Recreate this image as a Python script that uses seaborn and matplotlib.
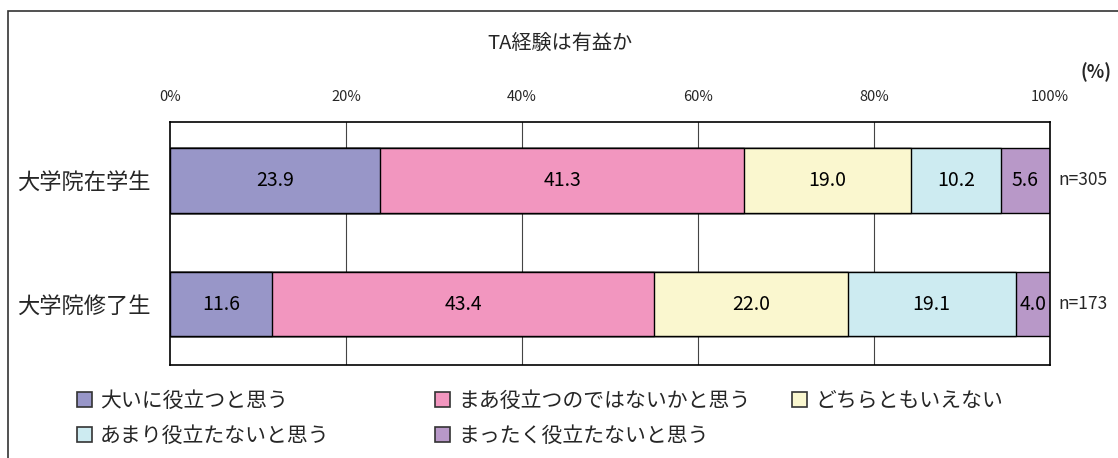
import numpy as np
import pandas as pd
import seaborn as sns
import matplotlib.pyplot as plt
from matplotlib.patches import Patch, Rectangle

groups = ["大学院在学生", "大学院修了生"]
answers = ["大いに役立つと思う", "まあ役立つのではないかと思う", "どちらともいえない",
           "あまり役立たないと思う", "まったく役立たないと思う"]
v_zaigaku = [23.9, 41.3, 19.0, 10.2, 5.6]
v_shuryo = [11.6, 43.4, 22.0, 19.1, 4.0]
n_labels = ["n=305", "n=173"]
x_ticks = [0, 20, 40, 60, 80, 100]
colors = ["#9896C8", "#F296BF", "#FAF7CF", "#CDEBF1", "#B898C8"]

sns.set_style("white")
plt.rcParams["font.family"] = ["Noto Sans CJK JP", "DejaVu Sans"]

df = pd.DataFrame([v_zaigaku, v_shuryo], index=groups, columns=answers)
cum = df.cumsum(axis=1)

fig = plt.figure(figsize=(11.18, 4.58), dpi=100)
ax = fig.add_axes([170 / 1118, 1 - 365 / 458, 880 / 1118, 243 / 458])

# stacked bars: draw cumulative totals from the longest to the shortest
for i in range(len(answers) - 1, -1, -1):
    sns.barplot(x=cum.iloc[:, i].values, y=groups, orient="h", width=0.52,
                color=colors[i], edgecolor="black", linewidth=1.0,
                saturation=1, ax=ax, zorder=2)

for r, g in enumerate(groups):
    for i, a in enumerate(answers):
        val = df.loc[g, a]
        ax.text(cum.loc[g, a] - val / 2, r, f"{val:.1f}", ha="center", va="center",
                fontsize=14, color="black", zorder=3)
    ax.text(101.0, r, n_labels[r], ha="left", va="center", fontsize=12.5)

ax.set_xlim(0, 100)
ax.set_ylim(1.49, -0.47)
ax.set_xticks(x_ticks)
ax.set_xticklabels([f"{t}%" for t in x_ticks], fontsize=10.5)
ax.xaxis.tick_top()
ax.tick_params(axis="x", length=0, pad=13)
ax.tick_params(axis="y", length=0, labelsize=16, pad=14)
ax.set_yticks([0.5], minor=True)
ax.tick_params(axis="y", which="minor", direction="in", length=7, width=1, color="black")
ax.set_xlabel("")
ax.set_ylabel("")
for x in x_ticks[1:-1]:
    ax.axvline(x, color="#444444", linewidth=0.8, zorder=1)
for s in ax.spines.values():
    s.set_color("black")
    s.set_linewidth(1.2)
ax.grid(False)

fig.text(560 / 1118, 1 - 43 / 458, "TA経験は有益か", ha="center", va="center", fontsize=14.5)
fig.text(1112 / 1118, 1 - 72 / 458, "(%)", ha="right", va="center", fontsize=13,
         fontweight="bold")

# outer chart border
fig.add_artist(Rectangle((8 / 1118, -0.1), 1.2, 1.1 - 11 / 458, transform=fig.transFigure,
                         fill=False, edgecolor="#333333", linewidth=1.2))

handles = [Patch(facecolor=c, edgecolor="#333333", linewidth=1.2) for c in colors]
legend_cols = [([0, 3], 77), ([1, 4], 435), ([2], 792)]
for idx, xpos in legend_cols:
    fig.legend([handles[k] for k in idx], [answers[k] for k in idx],
               loc="upper left", bbox_to_anchor=(xpos / 1118, 1 - 390 / 458),
               frameon=False, fontsize=15, borderpad=0, borderaxespad=0,
               handlelength=0.7, handleheight=0.7, handletextpad=0.4,
               labelspacing=0.62)

fig.savefig("out.png", dpi=100)
